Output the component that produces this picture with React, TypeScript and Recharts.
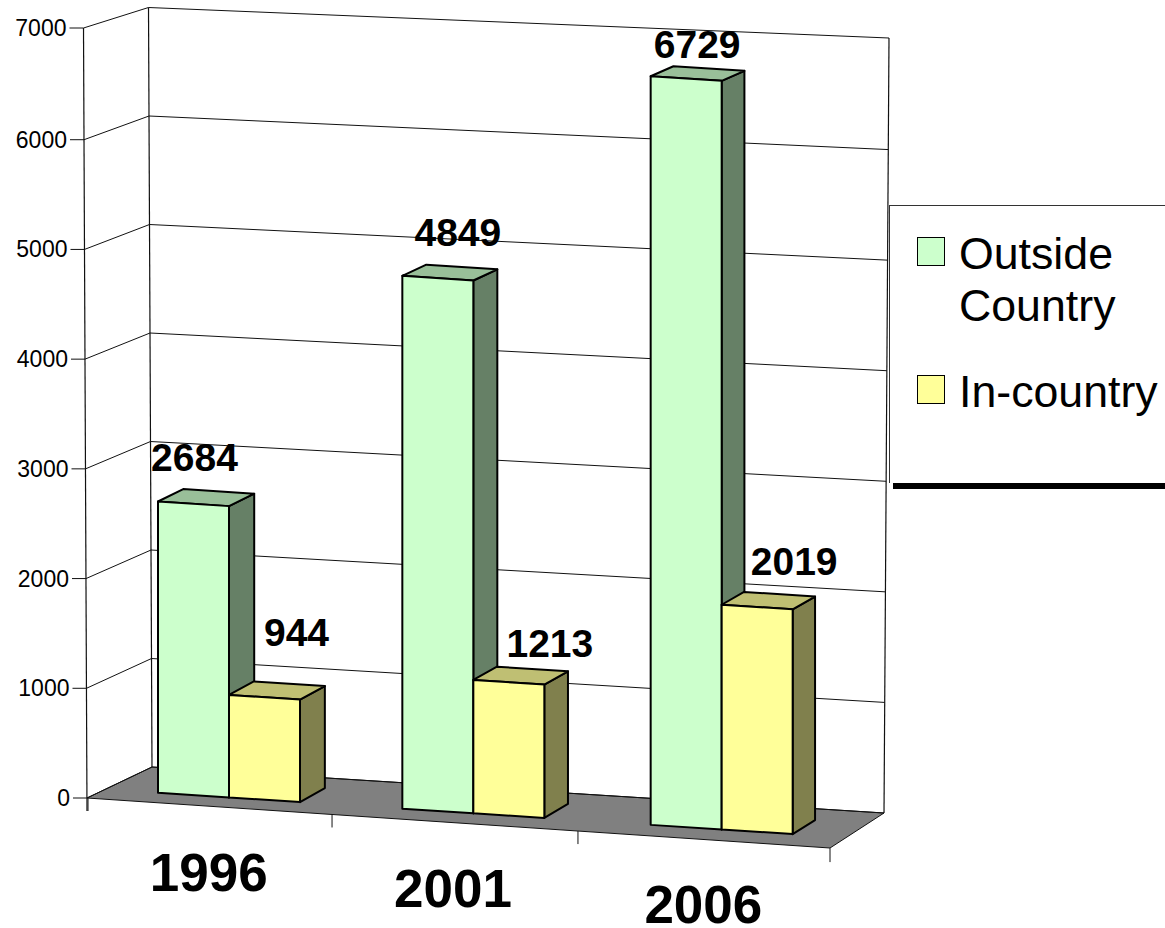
import React from "react";
import {
  ComposedChart, Bar, XAxis, YAxis, CartesianGrid, Legend, LabelList,
} from "recharts";

const years = ["1996", "2001", "2006"];
const outsideCountry = [2684, 4849, 6729];
const inCountry = [944, 1213, 2019];
const valueTicks = [0, 1000, 2000, 3000, 4000, 5000, 6000, 7000];

const data = years.map((year, i) => ({
  year,
  outside: outsideCountry[i],
  inside: inCountry[i],
}));

const FONT = '"Liberation Sans", Arial, sans-serif';
const WIDTH = 1165;
const HEIGHT = 928;
const PLOT_LEFT = 88;
const PLOT_RIGHT = 830;
const PLOT_TOP = 30;
const PLOT_BOTTOM = 798;
const BAND = (PLOT_RIGHT - PLOT_LEFT) / years.length;
const LINE = "#111111";

// face, side, top colours of the 3d boxes
const SHADES: Record<string, { side: string; top: string }> = {
  "#CCFFCC": { side: "#668066", top: "#99BF99" },
  "#FFFF99": { side: "#80804D", top: "#BFBF73" },
};

// the original's groups and labels are not evenly placed, so nudge per group
const BAND_NUDGE = [17, 14, 15];
const YEAR_NUDGE = [-3, -6, -3];
const TICK_NUDGE = [0, -3.3, -4.7];
const OUTSIDE_LABEL_NUDGE = [[1, -31], [20, -30], [11, -18]];
const INSIDE_LABEL_NUDGE = [[32, -49], [41, -23], [37, -30]];

const lerp = (a: number, b: number, t: number) => a + (b - a) * t;

// fake perspective: move a flat bar onto the sloping floor
function project(x: number, y: number, width: number, height: number, stretch: number) {
  const band = Math.min(years.length - 1, Math.floor((x - PLOT_LEFT) / BAND));
  const px = x + BAND_NUDGE[band];
  const slope = 0.065;
  const shift = slope * (px - PLOT_LEFT) - 9.7;
  const k = (0.988 + (px - 190) * 0.00005) * stretch;
  const bottom = y + height + shift;
  const top = bottom - height * k;
  return { px, top, bottom, rise: slope * width, h: height * k };
}

const OUTSIDE_STRETCH = 1.003;
const INSIDE_STRETCH = 1;

function Box3D(props: any) {
  const { x, y, width, height, fill } = props;
  const stretch = fill === "#CCFFCC" ? OUTSIDE_STRETCH : INSIDE_STRETCH;
  const { px, top, bottom, rise, h } = project(x, y, width, height, stretch);
  const shade = SHADES[fill];
  const dx = 25 - (px - 200) * 0.005;
  const topDy = -14 + (4 * h) / 750;
  const botDy = -14;
  const xr = px + width;
  const line = { stroke: "#000", strokeWidth: 2, strokeLinejoin: "round" as const };
  return (
    <g>
      <polygon
        points={`${xr},${top + rise} ${xr + dx},${top + rise + topDy} ${xr + dx},${bottom + rise + botDy} ${xr},${bottom + rise}`}
        fill={shade.side}
        {...line}
      />
      <polygon
        points={`${px},${top} ${px + dx},${top + topDy} ${xr + dx},${top + rise + topDy} ${xr},${top + rise}`}
        fill={shade.top}
        {...line}
      />
      <polygon
        points={`${px},${top} ${xr},${top + rise} ${xr},${bottom + rise} ${px},${bottom}`}
        fill={fill}
        {...line}
      />
    </g>
  );
}

function barLabel(nudges: number[][], stretch: number) {
  return (props: any) => {
    const { x, y, width, height, value, index } = props;
    const { px, top } = project(x, y, width, height, stretch);
    const [nx, ny] = nudges[index];
    return (
      <text
        x={px + width / 2 + nx}
        y={top + ny}
        textAnchor="middle"
        fontFamily={FONT}
        fontWeight="bold"
        fontSize={39}
        fill="#000"
      >
        {value}
      </text>
    );
  };
}

// walls and floor hang off the y scale gridlines
function WallLine(props: any) {
  const t = (PLOT_BOTTOM - props.y1) / (PLOT_BOTTOM - PLOT_TOP);
  const isFloor = t < 0.001;
  const isTop = t > 0.999;
  const front = [lerp(87, 83.5, t), isTop ? 28 : lerp(798, PLOT_TOP, t)];
  const backL = [lerp(152, 148.5, t), lerp(767, 7.5, t)];
  const backR = [lerp(884, 889, t), isTop ? 38 : lerp(813, 39, t)];
  return (
    <g>
      {isFloor && (
        <polygon points="87,798 152,767 884,813 830,848" fill="#808080" stroke={LINE} strokeWidth={1} />
      )}
      {isTop && (
        <g stroke={LINE} strokeWidth={1.2}>
          <line x1={83.5} y1={28} x2={87} y2={811} />
          <line x1={148.5} y1={7.5} x2={152} y2={767} />
          <line x1={889} y1={38} x2={884} y2={813} />
        </g>
      )}
      <line x1={front[0]} y1={front[1]} x2={backL[0]} y2={backL[1]} stroke={LINE} strokeWidth={1} />
      <line x1={backL[0]} y1={backL[1]} x2={backR[0]} y2={backR[1]} stroke={LINE} strokeWidth={1} />
    </g>
  );
}

function ValueTick(props: any) {
  const { payload } = props;
  const t = payload.value / 7000;
  const y = t === 1 ? props.y - 2 : props.y;
  const ax = lerp(87, 83.5, t);
  return (
    <g>
      <line x1={ax - 14} y1={y} x2={ax} y2={y} stroke={LINE} strokeWidth={1} />
      <text x={ax - 17} y={y + 8} textAnchor="end" fontFamily={FONT} fontSize={23} fill="#000">
        {payload.value}
      </text>
    </g>
  );
}

function YearTick(props: any) {
  const { x, payload, index } = props;
  const edge = (ex: number) => 798 + 0.0675 * (ex - PLOT_LEFT);
  const left = x - BAND / 2 + TICK_NUDGE[index];
  const right = x + BAND / 2;
  const labelX = x + YEAR_NUDGE[index];
  return (
    <g>
      <line x1={left} y1={edge(left)} x2={left} y2={edge(left) + 13} stroke={LINE} strokeWidth={1} />
      {index === years.length - 1 && (
        <line x1={right} y1={edge(right)} x2={right} y2={edge(right) + 14} stroke={LINE} strokeWidth={1} />
      )}
      <text
        x={labelX}
        y={891 + 0.0648 * (labelX - 209)}
        textAnchor="middle"
        fontFamily={FONT}
        fontWeight="bold"
        fontSize={53}
        fill="#000"
      >
        {payload.value}
      </text>
    </g>
  );
}

function LegendBox({ payload }: any) {
  const rowTops = [31, 169];
  return (
    <div
      style={{
        position: "relative",
        width: 276,
        height: 278,
        background: "#fff",
        borderTop: "1px solid #333",
        borderLeft: "1px solid #333",
        boxSizing: "border-box",
        fontFamily: FONT,
        fontSize: 44.7,
        lineHeight: "52px",
        color: "#000",
      }}
    >
      <div style={{ position: "absolute", left: 3, top: 277, width: 273, height: 6, background: "#000" }} />
      {(payload || []).map((entry: any, i: number) => (
        <div key={entry.value} style={{ position: "absolute", left: 27, top: rowTops[i] }}>
          <span
            style={{
              position: "absolute",
              left: 0,
              top: 0,
              width: 28,
              height: 29,
              boxSizing: "border-box",
              background: entry.color,
              border: "1.5px solid #000",
            }}
          />
          <div style={{ marginLeft: 42, marginTop: -9, width: 206 }}>{entry.value}</div>
        </div>
      ))}
    </div>
  );
}

export default function App() {
  return (
    <div style={{ position: "absolute", left: 0, top: 0, width: WIDTH, height: HEIGHT, overflow: "hidden" }}>
      <ComposedChart
        width={WIDTH}
        height={HEIGHT}
        data={data}
        barCategoryGap={53}
        barGap={0}
        margin={{ top: PLOT_TOP, right: WIDTH - PLOT_RIGHT - 276, bottom: 0, left: 0 }}
      >
        <CartesianGrid vertical={false} horizontal={(p: any) => <WallLine key={p.y1} {...p} />} />
        <XAxis dataKey="year" height={HEIGHT - PLOT_BOTTOM} axisLine={false} tickLine={false} tick={<YearTick />} interval={0} />
        <YAxis
          width={PLOT_LEFT}
          domain={[0, 7000]}
          ticks={valueTicks}
          axisLine={false}
          tickLine={false}
          tick={<ValueTick />}
          interval={0}
        />
        <Legend
          layout="vertical"
          align="right"
          verticalAlign="top"
          width={276}
          wrapperStyle={{ left: 889, top: 205, width: 276 }}
          itemSorter={(item: any) => (item.dataKey === "outside" ? 0 : 1)}
          content={<LegendBox />}
        />
        <Bar dataKey="outside" name="Outside Country" fill="#CCFFCC" shape={Box3D} isAnimationActive={false}>
          <LabelList dataKey="outside" content={barLabel(OUTSIDE_LABEL_NUDGE, OUTSIDE_STRETCH)} />
        </Bar>
        <Bar dataKey="inside" name="In-country" fill="#FFFF99" shape={Box3D} isAnimationActive={false}>
          <LabelList dataKey="inside" content={barLabel(INSIDE_LABEL_NUDGE, INSIDE_STRETCH)} />
        </Bar>
      </ComposedChart>
    </div>
  );
}
